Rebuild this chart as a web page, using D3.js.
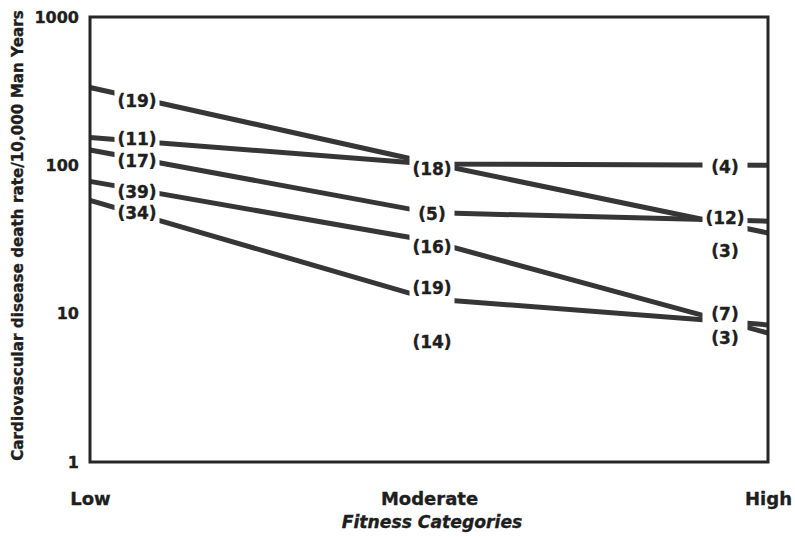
<!DOCTYPE html>
<html>
<head>
<meta charset="utf-8">
<script src="https://cdn.jsdelivr.net/npm/d3@7"></script>
<style>
  html, body { margin: 0; padding: 0; background: #fff; }
  svg { display: block; }
  text { font-family: "DejaVu Sans", sans-serif; font-weight: bold; fill: #1e1e1e; stroke: #1e1e1e; stroke-width: 0.35px; }
</style>
</head>
<body>
<svg id="chart" width="795" height="537"></svg>
<script>
// ---- data ----
const categories = ["Low", "Moderate", "High"];
const yTicks = [1, 10, 100, 1000];
// death rate per 10,000 man-years at Low, Moderate, High fitness
const series1 = [335, 104, 35];
const series2 = [154, 102, 100];
const series3 = [127, 48, 42];
const series4 = [78, 31, 7.4];
const series5 = [58, 12.6, 8.4];
const allSeries = [series1, series2, series3, series4, series5];
// number-of-deaths annotations: category, anchor value, text
const labelCats   = ["Low","Low","Low","Low","Low",
                     "Moderate","Moderate","Moderate","Moderate","Moderate",
                     "High","High","High","High","High"];
const labelValues = [271, 150, 107, 66, 47.7,
                     94.5, 47, 28.1, 14.9, 6.5,
                     97.4, 44.2, 26.5, 9.9, 6.9];
const labelTexts  = ["(19)","(11)","(17)","(39)","(34)",
                     "(18)","(5)","(16)","(19)","(14)",
                     "(4)","(12)","(3)","(7)","(3)"];
const yTitle = "Cardiovascular disease death rate/10,000 Man Years";
const xTitle = "Fitness Categories";

// ---- layout ----
const svg = d3.select("#chart");
const pL = 90, pR = 768, pT = 17, pB = 462;
const x = d3.scalePoint().domain(categories).range([pL, pR]);
const y = d3.scaleLog().domain([1, 1000]).range([pB, pT]);
const labelOffset = { Low: 47, Moderate: 3, High: -43 };
const labelX = c => x(c) + labelOffset[c];
const gapW = 45;

// mask to break lines at label columns
const defs = svg.append("defs");
const mask = defs.append("mask").attr("id", "gaps").attr("maskUnits", "userSpaceOnUse")
  .attr("x", 0).attr("y", 0).attr("width", 795).attr("height", 537);
mask.append("rect").attr("x", 0).attr("y", 0).attr("width", 795).attr("height", 537).attr("fill", "#fff");
mask.selectAll("rect.gap").data(categories).join("rect").attr("class", "gap")
  .attr("x", c => labelX(c) - gapW / 2).attr("y", 0)
  .attr("width", gapW).attr("height", 537).attr("fill", "#000");

// data lines
const line = d3.line().x((d, i) => x(categories[i])).y(d => y(d));
svg.append("g").attr("mask", "url(#gaps)")
  .selectAll("path").data(allSeries).join("path")
  .attr("d", line)
  .attr("fill", "none")
  .attr("stroke", "#363636")
  .attr("stroke-width", 5);

// frame
svg.append("rect")
  .attr("x", pL).attr("y", pT)
  .attr("width", pR - pL).attr("height", pB - pT)
  .attr("fill", "none").attr("stroke", "#262626").attr("stroke-width", 3);

// y axis
const yAxis = svg.append("g").attr("transform", `translate(${pL},0)`)
  .call(d3.axisLeft(y).tickValues(yTicks).tickFormat(d3.format("d")).tickSize(0).tickPadding(11));
yAxis.select(".domain").remove();
yAxis.selectAll("text").style("font-size", "16px").style("font-family", "DejaVu Sans").style("font-weight", "bold").attr("fill", "#1e1e1e");

// x axis
const xAxis = svg.append("g").attr("transform", `translate(0,${pB})`)
  .call(d3.axisBottom(x).tickSize(0).tickPadding(30));
xAxis.select(".domain").remove();
xAxis.selectAll("text").style("font-size", "18px").style("font-family", "DejaVu Sans").style("font-weight", "bold").attr("fill", "#1e1e1e");

// annotations
svg.append("g").selectAll("text").data(labelTexts).join("text")
  .attr("x", (t, i) => labelX(labelCats[i]))
  .attr("y", (t, i) => y(labelValues[i]))
  .attr("dy", "0.36em")
  .attr("text-anchor", "middle")
  .style("font-size", "17px")
  .text(t => t);

// titles
svg.append("text")
  .attr("transform", `translate(23,${(pT + pB) / 2 - 4}) rotate(-90)`)
  .attr("text-anchor", "middle")
  .style("font-size", "15.2px")
  .text(yTitle);
svg.append("text")
  .attr("x", 432).attr("y", 528)
  .attr("text-anchor", "middle")
  .style("font-size", "17.2px").style("font-style", "italic")
  .text(xTitle);
</script>
</body>
</html>
